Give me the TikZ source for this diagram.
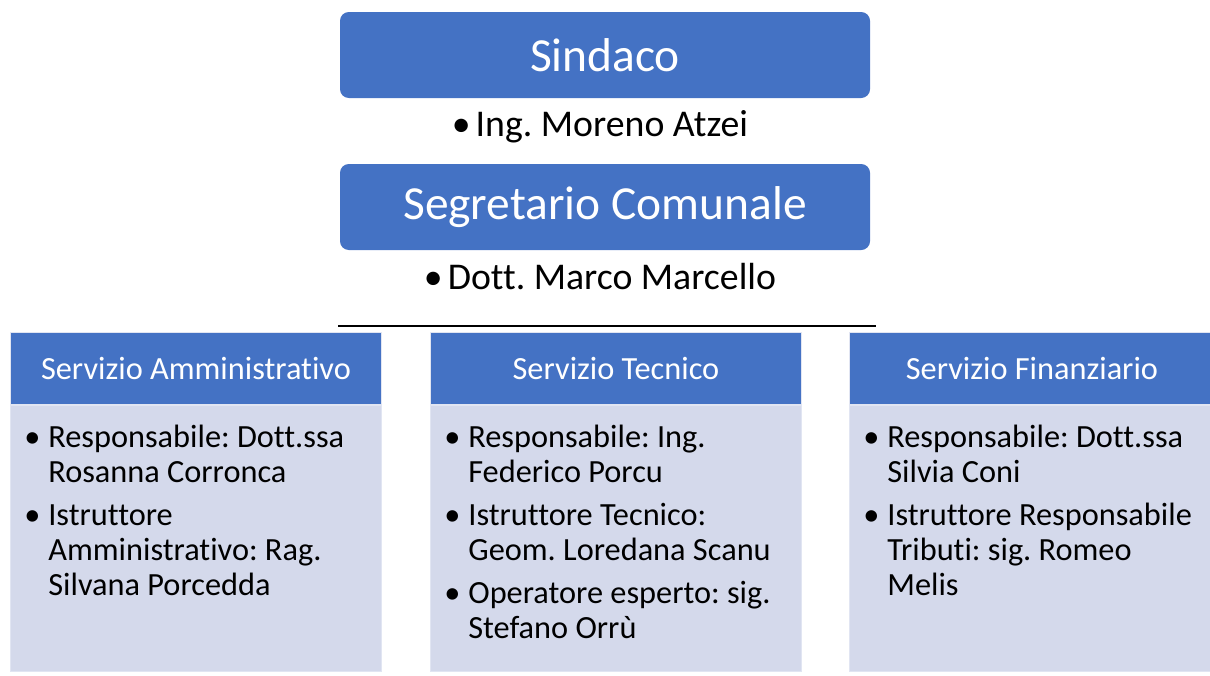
\documentclass[tikz,border=0pt]{standalone}
\usepackage{fontspec}
\setmainfont{Carlito}[Ligatures=NoCommon]
\usetikzlibrary{positioning}
\definecolor{Titlecol}{RGB}{68, 114, 196}
\definecolor{Bodycol}{RGB}{212, 217, 235}
\definecolor{Bodydraw}{RGB}{225, 229, 242}
\newcommand{\elenco}[1]{\begin{tabular}{@{}p{0.48cm}@{}l@{}}#1\end{tabular}}
\frenchspacing

\begin{document}
\begin{tikzpicture}[
    every node/.style={align=center},
    titlebox/.style={
        rectangle, rounded corners=5pt,
        fill=Titlecol, text=white,
        minimum width=10.6cm, minimum height=1.72cm,
        font=\fontsize{27}{31}\selectfont
    },
    namelabel/.style={font=\fontsize{21.5}{25}\selectfont},
    headbox/.style={
        rectangle, anchor=north west,
        fill=Titlecol, draw=Bodydraw, line width=0.5pt, text=white,
        minimum width=7.42cm, minimum height=1.44cm,
        font=\fontsize{18.4}{21}\selectfont
    },
    bodybox/.style={
        rectangle, anchor=north west,
        fill=Bodycol, draw=Bodydraw, line width=0.5pt,
        minimum width=7.42cm, minimum height=5.32cm
    },
    bodytext/.style={
        anchor=north west, align=left, inner sep=0pt,
        font=\fontsize{18.4}{19.9}\selectfont
    }
]

    % cornice della pagina
    \useasboundingbox (0,0) rectangle (24.2,-13.5);

    % ------------------- VERTICE -------------------
    \node[titlebox] (sindaco) at (12.1,-1.1) {Sindaco};
    \node[namelabel] (atzei) at (12.0,-2.53) {\textbullet\hspace{0.1cm}Ing. Moreno Atzei};

    \node[titlebox] (segretario) at (12.1,-4.14) {Segretario Comunale};
    \node[namelabel] (marcello) at (12.0,-5.54) {\textbullet\hspace{0.1cm}Dott. Marco Marcello};

    % linea di separazione
    \coordinate (sepL) at (6.76,-6.52);
    \coordinate (sepR) at (17.52,-6.52);
    \draw[black, line width=1.2pt] (sepL) -- (sepR);

    % ------------------- SERVIZI -------------------
    \node[headbox] (headA) at (0.2,-6.64) {Servizio Amministrativo};
    \node[bodybox] (bodyA) at (headA.south west) {};
    \node[bodytext] (listA) at (0.48,-8.45) {\elenco{
        \textbullet & Responsabile: Dott.ssa\\
                    & Rosanna Corronca\\[0.16cm]
        \textbullet & Istruttore\\
                    & Amministrativo: Rag.\\
                    & Silvana Porcedda}};

    \node[headbox] (headT) at (8.6,-6.64) {Servizio Tecnico};
    \node[bodybox] (bodyT) at (headT.south west) {};
    \node[bodytext] (listT) at (8.88,-8.45) {\elenco{
        \textbullet & Responsabile: Ing.\\
                    & Federico Porcu\\[0.16cm]
        \textbullet & Istruttore Tecnico:\\
                    & Geom. Loredana Scanu\\[0.16cm]
        \textbullet & Operatore esperto: sig.\\
                    & Stefano Orrù}};

    \node[headbox, minimum width=7.3cm] (headF) at (16.98,-6.64) {Servizio Finanziario};
    \node[bodybox, minimum width=7.3cm] (bodyF) at (headF.south west) {};
    \node[bodytext] (listF) at (17.26,-8.45) {\elenco{
        \textbullet & Responsabile: Dott.ssa\\
                    & Silvia Coni\\[0.16cm]
        \textbullet & Istruttore Responsabile\\
                    & Tributi: sig. Romeo\\
                    & Melis}};
\end{tikzpicture}
\end{document}
